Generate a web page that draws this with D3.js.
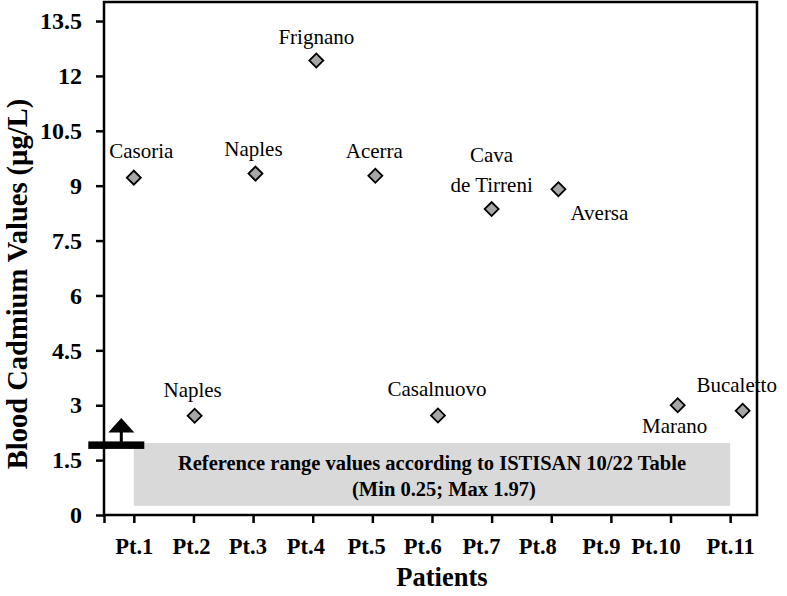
<!DOCTYPE html>
<html>
<head>
<meta charset="utf-8">
<script src="https://cdn.jsdelivr.net/npm/d3@7"></script>
<style>
  html, body { margin: 0; padding: 0; background: #fff; }
  svg { display: block; }
  svg text { font-family: 'Liberation Serif', 'Times New Roman', Times, 'DejaVu Serif', serif !important; }
</style>
</head>
<body>
<svg id="chart" width="787" height="596"></svg>
<script>
// ---- data ----
const categories = ["Pt.1","Pt.2","Pt.3","Pt.4","Pt.5","Pt.6","Pt.7","Pt.8","Pt.9","Pt.10","Pt.11"];
const yTicks = [0, 1.5, 3, 4.5, 6, 7.5, 9, 10.5, 12, 13.5];
const cities = ["Casoria","Naples","Naples","Frignano","Acerra","Casalnuovo","Cava\nde Tirreni","Aversa","Marano","Bucaletto"];
const patientPos = [1.0, 2.02, 3.04, 4.06, 5.05, 6.1, 7.0, 8.12, 10.12, 11.21];
const cadmium = [9.22, 2.71, 9.33, 12.42, 9.27, 2.72, 8.36, 8.90, 3.00, 2.85];
const refMin = 0.25, refMax = 1.97;
const refText = ["Reference range values according to ISTISAN 10/22 Table", "(Min 0.25; Max 1.97)"];

// ---- layout ----
const FONT = "'Liberation Serif', 'Times New Roman', Times, 'DejaVu Serif', serif";
const L = 104, R = 757, T = 2, B = 515;
const svg = d3.select("#chart").attr("font-family", FONT);
const x = d3.scaleLinear().domain([0.5, 11.45]).range([L, R]);
const y = d3.scaleLinear().domain([0, 14.02]).range([B, T]);

// reference range box
svg.append("rect")
  .attr("x", x(1)).attr("width", x(11) - x(1))
  .attr("y", y(refMax)).attr("height", y(refMin) - y(refMax))
  .attr("fill", "#d9d9d9");
const refDx = [0, 12];
svg.selectAll("text.ref").data(refText).enter().append("text")
  .attr("class", "ref")
  .attr("x", (d, i) => (x(1) + x(11)) / 2 + refDx[i])
  .attr("y", (d, i) => 470 + i * 25.5)
  .attr("text-anchor", "middle")
  .attr("font-size", 20.5).attr("font-weight", "bold")
  .text(d => d);

// axes
const yAxis = d3.axisLeft(y).tickValues(yTicks).tickSize(8).tickSizeOuter(0)
  .tickFormat(d => String(d));
const gy = svg.append("g").attr("transform", `translate(${L},0)`).call(yAxis).attr("font-family", FONT);
gy.select(".domain").remove();
gy.selectAll(".tick line").attr("stroke", "#000").attr("stroke-width", 2.5);
gy.selectAll(".tick text")
  .attr("font-size", 24).attr("font-weight", "bold").attr("fill", "#000").attr("x", -22);

const xTickVals = [0.5].concat(categories.map((c, i) => i + 1));
const tickLabelDx = [0, -2.5, -5.7, -7.3, -6.2, -9.7, -10.7, -14, -10, -15, 0];
const xAxis = d3.axisBottom(x).tickValues(xTickVals).tickSize(8).tickSizeOuter(0)
  .tickFormat(d => d === 0.5 ? "" : categories[d - 1]);
const gx = svg.append("g").attr("transform", `translate(0,${B})`).call(xAxis).attr("font-family", FONT);
gx.select(".domain").remove();
gx.selectAll(".tick line").attr("stroke", "#000").attr("stroke-width", 2.5);
gx.selectAll(".tick text")
  .attr("font-size", 22.5).attr("font-weight", "bold").attr("fill", "#000").attr("y", 23)
  .attr("dx", d => d === 0.5 ? 0 : tickLabelDx[d - 1]);

// frame
svg.append("rect").attr("x", L).attr("y", T).attr("width", R - L).attr("height", B - T)
  .attr("fill", "none").attr("stroke", "#000").attr("stroke-width", 2.5);

// axis titles
svg.append("text").attr("x", 442).attr("y", 586).attr("text-anchor", "middle")
  .attr("font-size", 26.5).attr("font-weight", "bold").text("Patients");
svg.append("text").attr("transform", "translate(27,284) rotate(-90)")
  .attr("text-anchor", "middle").attr("font-size", 28.5).attr("font-weight", "bold")
  .text("Blood Cadmium Values (µg/L)");

// max indicator (bar + arrow)
const ax = x(0.79), ay = y(refMax);
svg.append("rect").attr("x", ax - 33).attr("y", ay - 1.5).attr("width", 56).attr("height", 7.5).attr("fill", "#000");
svg.append("rect").attr("x", ax - 1.5).attr("y", ay - 11).attr("width", 3).attr("height", 10).attr("fill", "#000");
svg.append("path").attr("d", `M${ax - 13},${ay - 10.5}L${ax},${ay - 25}L${ax + 13},${ay - 10.5}Z`).attr("fill", "#000");

// points
const pts = cadmium.map((v, i) => ({ v, p: patientPos[i], name: cities[i] }));
const sq = d3.symbol().type(d3.symbolSquare).size(98);
svg.selectAll("path.pt").data(pts).enter().append("path")
  .attr("class", "pt")
  .attr("d", sq)
  .attr("transform", d => `translate(${x(d.p)},${y(d.v)}) rotate(45)`)
  .attr("fill", "#a6a6a6").attr("stroke", "#000").attr("stroke-width", 1.8);

// labels: offsets relative to point
const labelOff = [[7.5,-20],[-2,-19],[-2,-18],[0,-17],[-1,-18],[-1,-19],[0,-17],[41,31],[-3,28],[-6,-19]];
pts.forEach((d, i) => {
  const lines = d.name.split("\n");
  const t = svg.append("text")
    .attr("text-anchor", "middle").attr("font-size", 21).attr("fill", "#000");
  lines.forEach((ln, j) => {
    t.append("tspan")
      .attr("x", x(d.p) + labelOff[i][0])
      .attr("y", y(d.v) + labelOff[i][1] - (lines.length - 1 - j) * 30)
      .text(ln);
  });
});
</script>
</body>
</html>
